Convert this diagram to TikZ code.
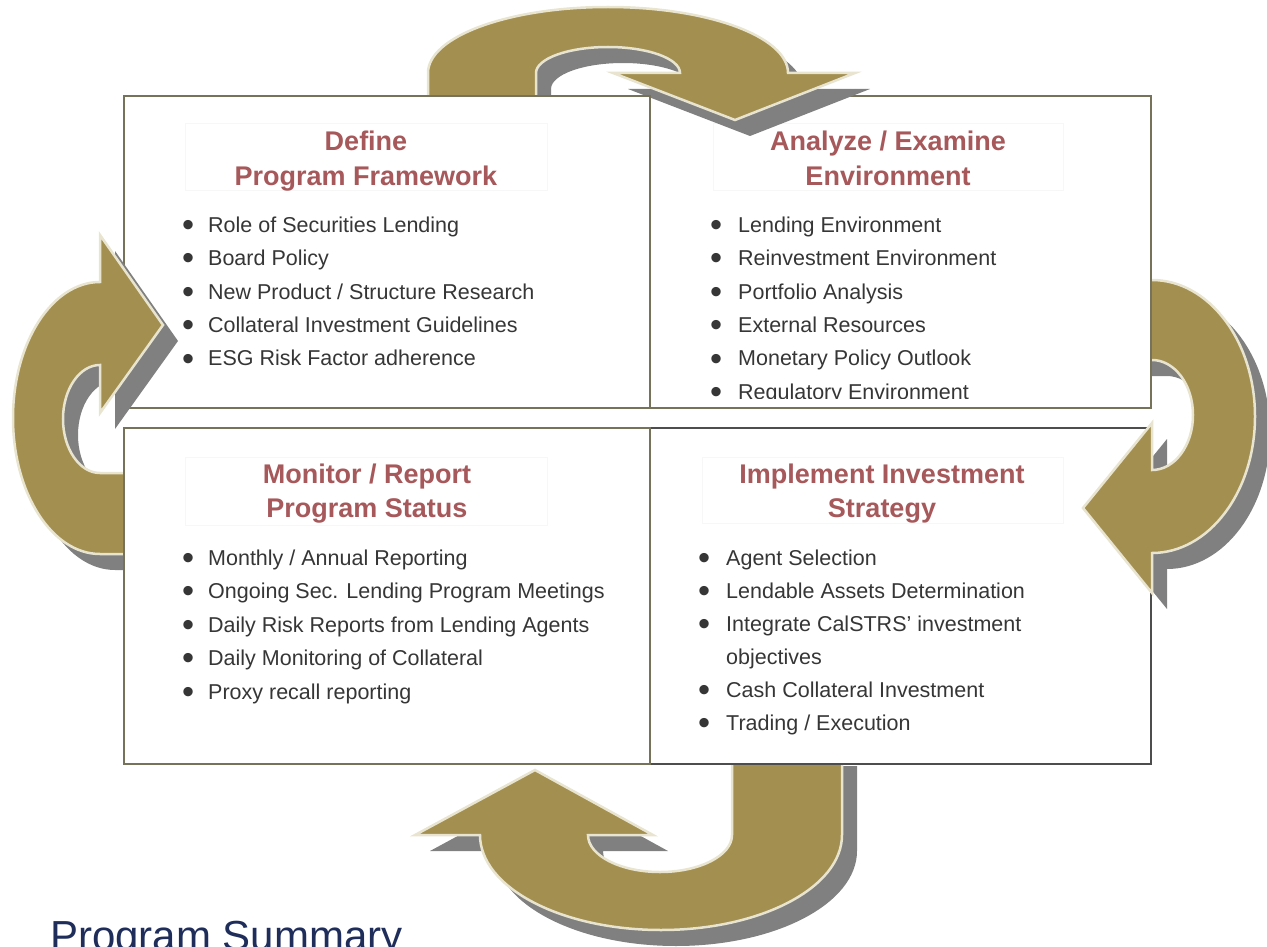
\documentclass[tikz,border=0pt]{standalone}
\usepackage{fontspec}
\usepackage{graphicx}
\setmainfont{Liberation Sans}
\definecolor{arrowgold}{HTML}{A39050}
\definecolor{arrowrim}{HTML}{E8E4D0}
\definecolor{shadowgray}{HTML}{808080}
\definecolor{panelline}{HTML}{76735A}
\definecolor{paneldark}{HTML}{4D4D4D}
\definecolor{headred}{HTML}{A6585A}
\definecolor{bodygray}{HTML}{363636}
\definecolor{navy}{HTML}{1F2D5A}
% round list marker, a little larger than the plain bullet glyph
\newcommand\listdot{\raisebox{-0.2em}{\scalebox{1.6}{•}}}
\begin{document}
\begin{tikzpicture}[x=1pt,y=-1pt,
  panel/.style={draw=panelline, line width=1.5pt, fill=white, inner sep=0pt, outer sep=0pt, anchor=north west},
  goldarrow/.style={fill=arrowgold, draw=arrowrim, line width=2.5pt, line join=miter},
  dropshadow/.style={fill=shadowgray},
  titlerule/.style={draw=black!3, line width=0.8pt},
  heading/.style={inner sep=0pt, anchor=base, text=headred, font=\bfseries\fontsize{27pt}{34.5pt}\selectfont},
  itemlist/.style={inner sep=0pt, anchor=base west, text=bodygray, font=\fontsize{21.5pt}{33.5pt}\selectfont},
  % outlines of the four curved arrows (y grows downwards)
  toparrow/.style={insert path={(428,100) -- (428,73) arc[start angle=180, end angle=360, x radius=180, y radius=66]
      -- (855,73) -- (735,120) -- (613,73) -- (680,73)
      arc[start angle=0, end angle=-180, x radius=72, y radius=26] -- (536,100) -- cycle}},
  leftarrow/.style={insert path={(100,235) -- (163,325) -- (100,413) -- (100,365)
      arc[start angle=-90, end angle=-270, x radius=37, y radius=54] -- (140,473) -- (140,554) -- (100,554)
      arc[start angle=90, end angle=270, x radius=87, y radius=136] -- cycle}},
  rightarrow/.style={insert path={(1130,280) -- (1152,280)
      arc[start angle=-90, end angle=90, x radius=103, y radius=136.5]
      -- (1152,593) -- (1083,508) -- (1152,423) -- (1152,470)
      arc[start angle=90, end angle=-90, x radius=41, y radius=55] -- (1130,360) -- cycle}},
  bottomarrow/.style={insert path={(842,750) -- (842,835)
      arc[start angle=0, end angle=180, x radius=181, y radius=95]
      -- (415,835) -- (535,770) -- (653,835) -- (588,835)
      arc[start angle=180, end angle=0, x radius=72, y radius=37] -- (732,750) -- cycle}}
]
\useasboundingbox (0,0) rectangle (1267,947);
\clip (0,0) rectangle (1267,947);

% arrow from "Implement" back up to "Monitor"
\begin{scope}[shift={(15,16)}]
  \fill[dropshadow] [bottomarrow];
\end{scope}
\filldraw[goldarrow] [bottomarrow];

% Implement Investment Strategy
\node[panel, draw=paneldark, minimum width=501pt, minimum height=336pt] (br) at (650,428) {};
\draw[titlerule] (702,457) rectangle (1063,523);
\node[heading] (brtitle) at (882,483) {\begin{tabular}[t]{@{}c@{}}Implement Investment\\Strategy\end{tabular}};
\node[itemlist] (brlist) at (698,565) {\fontsize{21.5pt}{33pt}\selectfont\begin{tabular}[t]{@{}p{28pt}@{}l@{}}
\listdot & Agent Selection\\
\listdot & Lendable Assets Determination\\
\listdot & Integrate CalSTRS’ investment\\
  & objectives\\
\listdot & Cash Collateral Investment\\
\listdot & Trading / Execution
\end{tabular}};

% arrow from "Analyze" down to "Implement"
\begin{scope}[shift={(15,16)}]
  \fill[dropshadow] [rightarrow];
\end{scope}
\filldraw[goldarrow] [rightarrow];

% Analyze / Examine Environment
\node[panel, minimum width=501pt, minimum height=312pt] (tr) at (650,96) {};
\draw[titlerule] (713,123) rectangle (1063,190);
\node[heading] (trtitle) at (888,151) {\begin{tabular}[t]{@{}c@{}}Analyze / Examine\\Environment\end{tabular}};
\begin{scope}
  \clip (651,97) rectangle (1150,398);
  \node[itemlist] (trlist) at (710,232) {\begin{tabular}[t]{@{}p{28pt}@{}l@{}}
  \listdot & Lending Environment\\
  \listdot & Reinvestment Environment\\
  \listdot & Portfolio Analysis\\
  \listdot & External Resources\\
  \listdot & Monetary Policy Outlook\\
  \listdot & Regulatory Environment
  \end{tabular}};
\end{scope}

% arrow from "Define" over to "Analyze"
\begin{scope}[shift={(15,16)}]
  \fill[dropshadow] [toparrow];
\end{scope}
\filldraw[goldarrow] [toparrow];

% Define Program Framework
\node[panel, minimum width=526pt, minimum height=312pt] (tl) at (124,96) {};
\draw[titlerule] (185,123) rectangle (547,190);
\node[heading] (tltitle) at (366,151) {\begin{tabular}[t]{@{}c@{}}Define\\Program Framework\end{tabular}};
\node[itemlist] (tllist) at (182,232) {\begin{tabular}[t]{@{}p{26pt}@{}l@{}}
\listdot & Role of Securities Lending\\
\listdot & Board Policy\\
\listdot & New Product / Structure Research\\
\listdot & Collateral Investment Guidelines\\
\listdot & ESG Risk Factor adherence
\end{tabular}};

% arrow from "Monitor" up to "Define"
\begin{scope}[shift={(15,16)}]
  \fill[dropshadow] [leftarrow];
\end{scope}
\filldraw[goldarrow] [leftarrow];

% Monitor / Report Program Status
\node[panel, minimum width=526pt, minimum height=336pt] (bl) at (124,428) {};
\draw[titlerule] (185,457) rectangle (547,525);
\node[heading] (bltitle) at (367,483) {\begin{tabular}[t]{@{}c@{}}Monitor / Report\\Program Status\end{tabular}};
\node[itemlist] (bllist) at (182,565) {\begin{tabular}[t]{@{}p{26pt}@{}l@{}}
\listdot & Monthly / Annual Reporting\\
\listdot & Ongoing Sec. Lending Program Meetings\\
\listdot & Daily Risk Reports from Lending Agents\\
\listdot & Daily Monitoring of Collateral\\
\listdot & Proxy recall reporting
\end{tabular}};

\node[inner sep=0pt, anchor=base west, text=navy, font=\fontsize{42pt}{50pt}\selectfont] (summary) at (50,950) {Program Summary};
\end{tikzpicture}
\end{document}
